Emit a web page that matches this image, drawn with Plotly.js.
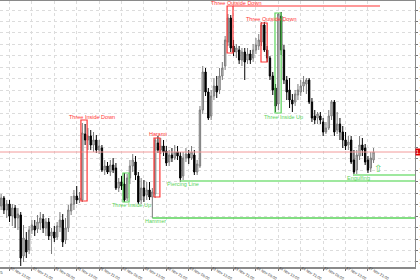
<!DOCTYPE html>
<html><head><meta charset="utf-8">
<script src="https://cdn.plot.ly/plotly-3.0.1.min.js"></script>
<style>html,body{margin:0;padding:0;background:#fff}#chart{width:420px;height:280px}</style>
</head><body><div id="chart"></div>
<script>
// Hourly OHLC (10 Nov 10:00 -> 17 Nov 23:00)
const openP = [
1.0058,1.0066,1.0054,1.0060,1.0048,1.0056,1.0046,1.0049,1.0008,1.0024,
1.0014,1.0034,1.0038,1.0035,1.0041,1.0045,1.0036,1.0042,1.0028,1.0032,
1.0027,1.0037,1.0044,1.0024,1.0036,1.0053,1.0060,1.0068,1.0064,1.0064,
1.0130,1.0124,1.0128,1.0119,1.0124,1.0114,1.0116,1.0094,1.0098,1.0092,
1.0099,1.0096,1.0076,1.0082,1.0080,1.0066,1.0086,1.0098,1.0102,1.0088,
1.0064,1.0076,1.0069,1.0074,1.0067,1.0070,1.0121,1.0114,1.0118,1.0113,
1.0102,1.0109,1.0106,1.0112,1.0108,1.0088,1.0106,1.0110,1.0106,1.0109,
1.0092,1.0098,1.0154,1.0192,1.0172,1.0148,1.0168,1.0178,1.0174,1.0188,
1.0198,1.0222,1.0246,1.0218,1.0212,1.0214,1.0204,1.0212,1.0204,1.0210,
1.0206,1.0214,1.0218,1.0222,1.0239,1.0214,1.0206,1.0188,1.0176,1.0160,
1.0248,1.0214,1.0184,1.0174,1.0164,1.0162,1.0169,1.0172,1.0178,1.0180,
1.0184,1.0162,1.0148,1.0146,1.0148,1.0142,1.0132,1.0136,1.0148,1.0162,
1.0134,1.0140,1.0132,1.0124,1.0119,1.0124,1.0104,1.0094,1.0108,1.0119,
1.0116,1.0104,1.0096,1.0104];
const highP = [
1.0070,1.0068,1.0064,1.0064,1.0060,1.0059,1.0056,1.0052,1.0039,1.0032,
1.0038,1.0044,1.0044,1.0049,1.0052,1.0050,1.0046,1.0046,1.0036,1.0038,
1.0042,1.0052,1.0050,1.0046,1.0059,1.0068,1.0074,1.0078,1.0072,1.0141,
1.0140,1.0136,1.0134,1.0132,1.0129,1.0124,1.0119,1.0104,1.0102,1.0104,
1.0106,1.0101,1.0086,1.0088,1.0091,1.0090,1.0104,1.0110,1.0108,1.0092,
1.0086,1.0084,1.0082,1.0082,1.0076,1.0126,1.0128,1.0126,1.0124,1.0118,
1.0114,1.0116,1.0119,1.0118,1.0112,1.0112,1.0116,1.0114,1.0118,1.0114,
1.0104,1.0158,1.0198,1.0196,1.0176,1.0174,1.0186,1.0188,1.0196,1.0202,
1.0228,1.0250,1.0249,1.0224,1.0220,1.0218,1.0216,1.0216,1.0216,1.0214,
1.0220,1.0226,1.0230,1.0242,1.0242,1.0218,1.0208,1.0192,1.0180,1.0251,
1.0252,1.0219,1.0188,1.0186,1.0170,1.0174,1.0180,1.0184,1.0188,1.0186,
1.0186,1.0166,1.0154,1.0152,1.0152,1.0146,1.0142,1.0154,1.0164,1.0164,
1.0152,1.0146,1.0138,1.0132,1.0128,1.0128,1.0114,1.0114,1.0128,1.0126,
1.0120,1.0108,1.0112,1.0116];
const lowP = [
1.0054,1.0050,1.0046,1.0042,1.0038,1.0036,1.0034,0.9998,1.0002,1.0006,
1.0010,1.0030,1.0028,1.0031,1.0034,1.0031,1.0028,1.0024,1.0010,1.0022,
1.0024,1.0032,1.0017,1.0020,1.0032,1.0049,1.0054,1.0060,1.0061,1.0062,
1.0119,1.0114,1.0114,1.0112,1.0111,1.0110,1.0092,1.0089,1.0090,1.0088,
1.0091,1.0074,1.0072,1.0074,1.0062,1.0063,1.0080,1.0092,1.0084,1.0060,
1.0060,1.0062,1.0064,1.0064,1.0046,1.0066,1.0111,1.0110,1.0108,1.0098,
1.0098,1.0102,1.0104,1.0104,1.0082,1.0084,1.0102,1.0100,1.0104,1.0089,
1.0089,1.0096,1.0150,1.0168,1.0144,1.0144,1.0164,1.0166,1.0170,1.0184,
1.0194,1.0218,1.0212,1.0208,1.0206,1.0200,1.0198,1.0184,1.0200,1.0200,
1.0202,1.0210,1.0214,1.0218,1.0212,1.0202,1.0184,1.0169,1.0152,1.0154,
1.0209,1.0180,1.0164,1.0156,1.0152,1.0158,1.0164,1.0168,1.0172,1.0170,
1.0160,1.0142,1.0140,1.0140,1.0140,1.0128,1.0130,1.0134,1.0144,1.0128,
1.0130,1.0124,1.0116,1.0114,1.0114,1.0100,1.0088,1.0090,1.0104,1.0108,
1.0099,1.0091,1.0092,1.0101];
const closeP = [
1.0066,1.0054,1.0060,1.0048,1.0056,1.0046,1.0050,1.0006,1.0026,1.0012,
1.0034,1.0039,1.0034,1.0042,1.0046,1.0036,1.0042,1.0028,1.0032,1.0026,
1.0038,1.0044,1.0022,1.0036,1.0054,1.0060,1.0068,1.0064,1.0066,1.0131,
1.0124,1.0128,1.0119,1.0124,1.0114,1.0118,1.0094,1.0098,1.0092,1.0099,
1.0094,1.0076,1.0082,1.0078,1.0064,1.0086,1.0098,1.0104,1.0089,1.0062,
1.0076,1.0068,1.0074,1.0067,1.0072,1.0124,1.0114,1.0118,1.0112,1.0101,
1.0109,1.0106,1.0112,1.0108,1.0086,1.0106,1.0110,1.0106,1.0112,1.0092,
1.0100,1.0154,1.0192,1.0172,1.0146,1.0168,1.0178,1.0172,1.0188,1.0196,
1.0224,1.0246,1.0216,1.0212,1.0216,1.0204,1.0212,1.0202,1.0210,1.0204,
1.0214,1.0219,1.0224,1.0239,1.0214,1.0206,1.0188,1.0174,1.0158,1.0250,
1.0214,1.0184,1.0172,1.0164,1.0160,1.0170,1.0174,1.0178,1.0182,1.0184,
1.0162,1.0146,1.0144,1.0150,1.0144,1.0132,1.0136,1.0148,1.0162,1.0132,
1.0140,1.0132,1.0124,1.0118,1.0122,1.0102,1.0092,1.0109,1.0119,1.0114,
1.0102,1.0094,1.0106,1.0112];

const timeLabels = ["10 Nov 13:00","10 Nov 21:00","11 Nov 05:00","11 Nov 13:00","11 Nov 21:00",
 "12 Nov 05:00","12 Nov 13:00","12 Nov 21:00","13 Nov 05:00","13 Nov 13:00","13 Nov 21:00",
 "14 Nov 05:00","14 Nov 13:00","14 Nov 21:00","17 Nov 05:00","17 Nov 13:00","17 Nov 21:00"];
const firstLabelBar = 3, barsPerLabel = 8;

const bidPrice = 1.0112;
const hammerLevel = 1.0046, piercingLevel = 1.0083, engulfingLevel = 1.0089;

const idx = openP.map((_, i) => i);
const tickvals = timeLabels.map((_, k) => firstLabelBar + k * barsPerLabel);

const RED = '#ff3535', GREEN = '#5ad35a', LGREEN = '#9fe89f';
const XMAX = 147.8;

const trace = {
  type: 'candlestick', x: idx, open: openP, high: highP, low: lowP, close: closeP,
  increasing: {line: {color: '#7a7a7a', width: 1}, fillcolor: '#cfcfcf'},
  decreasing: {line: {color: '#000000', width: 1}, fillcolor: '#000000'},
  whiskerwidth: 0, hoverinfo: 'skip'
};

function box(x0, x1, y0, y1, c) {
  return {type: 'rect', xref: 'x', yref: 'y', x0, x1, y0, y1, line: {color: c, width: 1.2}, fillcolor: 'rgba(0,0,0,0)'};
}
function hline(x0, x1, y, c, w) {
  return {type: 'line', xref: 'x', yref: 'y', x0, x1, y0: y, y1: y, line: {color: c, width: w}};
}
const shapes = [
  hline(-0.4, XMAX, bidPrice, '#f29a9a', 1),
  box(28.5, 30.7, 1.0063, 1.0144, RED),
  box(54.6, 56.7, 1.0067, 1.0126, RED),
  box(80.7, 82.8, 1.0211, 1.0258, RED),
  hline(82.8, 135.3, 1.0258, RED, 1.2),
  box(92.8, 95.0, 1.0202, 1.0241, RED),
  box(43.5, 45.7, 1.0062, 1.0091, GREEN),
  box(97.8, 100.0, 1.0151, 1.0251, GREEN),
  hline(54, XMAX, hammerLevel, GREEN, 1.5),
  hline(64, XMAX, piercingLevel, LGREEN, 2),
  hline(125.7, XMAX, engulfingLevel, LGREEN, 2)
];

function lab(text, x, y, c) {
  return {text, x, y, xref: 'x', yref: 'y', showarrow: false, font: {size: 5.5, color: c, family: 'Liberation Sans, Arial'}, xanchor: 'center', yanchor: 'middle'};
}
const annotations = [
  lab('Three Inside Down', 32.5, 1.0147, RED),
  lab('Harami', 56, 1.0130, RED),
  lab('Three Outside Down', 83.9, 1.0261, RED),
  lab('Three Outside Down', 96.4, 1.0245, RED),
  lab('Three Inside Up', 46.7, 1.0059, GREEN),
  lab('Hammer', 55, 1.0043, GREEN),
  lab('Piercing Line', 65, 1.0080, GREEN),
  lab('Three Inside Up', 100.7, 1.0147, GREEN),
  lab('Engulfing', 127.5, 1.0086, GREEN),
  {text: '⇧', x: 134.6, y: 1.0096, xref: 'x', yref: 'y', showarrow: false, font: {size: 10, color: GREEN, family: 'DejaVu Sans'}},
  {text: bidPrice.toFixed(5), x: 1, y: bidPrice, xref: 'paper', yref: 'y', xanchor: 'left', yanchor: 'middle', showarrow: false, bgcolor: '#e00000', borderpad: 0, font: {size: 5, color: '#fff', family: 'Liberation Sans, Arial'}},
  {text: '10 Nov 2025', x: 0.012, y: 0, xref: 'paper', yref: 'paper', xanchor: 'right', yanchor: 'top', yshift: -2, showarrow: false, font: {size: 3.8, color: '#333', family: 'Liberation Sans, Arial'}}
];

const layout = {
  width: 420, height: 280,
  margin: {l: 0, r: 5, t: 1, b: 13, pad: 0},
  paper_bgcolor: '#ffffff', plot_bgcolor: '#ffffff',
  showlegend: false, dragmode: false,
  font: {family: 'Liberation Sans, Arial', color: '#333'},
  xaxis: {
    type: 'linear', range: [-0.4, XMAX], rangeslider: {visible: false},
    tickmode: 'array', tickvals: tickvals, ticktext: timeLabels,
    ticks: 'outside', ticklen: 2, tickcolor: '#777', ticklabelposition: 'outside right',
    ticklabelstandoff: -4,
    tickfont: {size: 3.8, color: '#333'},
    showgrid: true, gridcolor: '#dcdcdc', griddash: 'dot', gridwidth: 1,
    showline: true, linecolor: '#8a8a8a', linewidth: 1.5, mirror: true, zeroline: false, fixedrange: true
  },
  yaxis: {
    side: 'right', range: [0.9997, 1.0263],
    tick0: 1.00021, dtick: 0.001145, tickformat: '.5f',
    ticks: 'outside', ticklen: 2, tickcolor: '#777',
    tickfont: {size: 6.5, color: '#333'},
    showgrid: true, gridcolor: '#dcdcdc', griddash: 'dot', gridwidth: 1,
    showline: true, linecolor: '#8a8a8a', linewidth: 1, zeroline: false, fixedrange: true
  },
  shapes, annotations
};

Plotly.newPlot('chart', [trace], layout, {displayModeBar: false, staticPlot: true});
</script></body></html>
